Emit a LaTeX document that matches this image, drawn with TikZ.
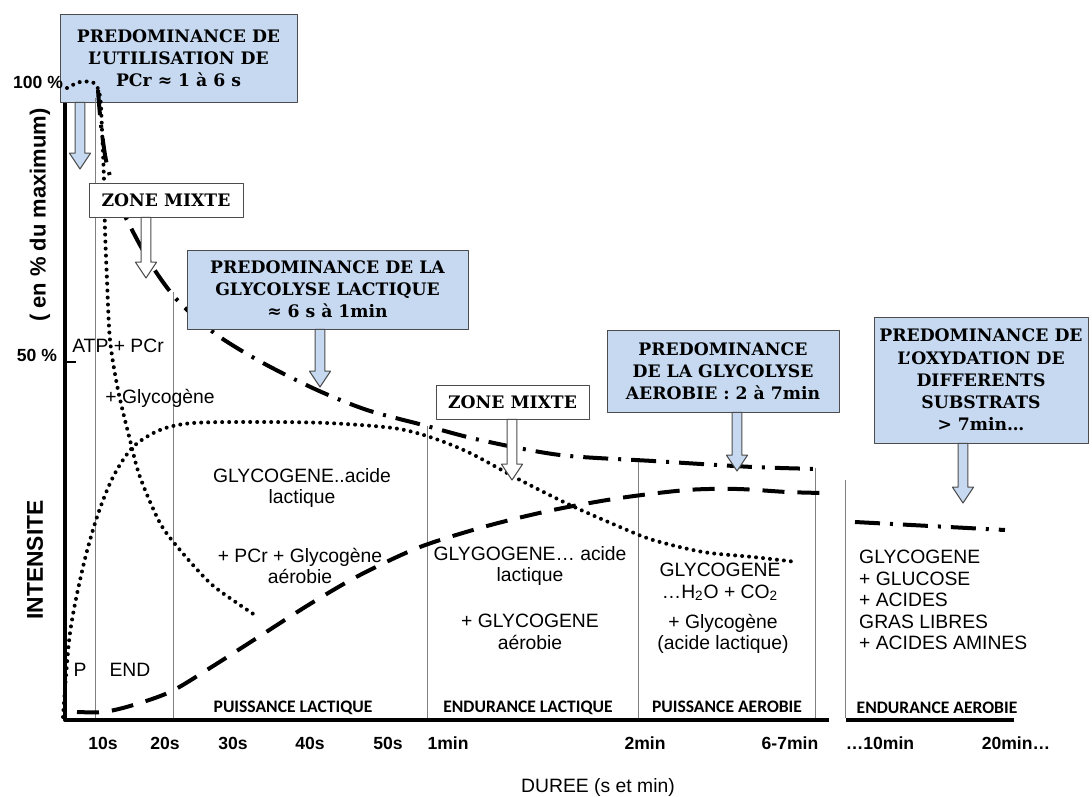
\documentclass[tikz,border=0pt]{standalone}
\usepackage{fontspec}
\setmainfont{Liberation Sans}
\newfontfamily\serifbox{DejaVu Serif}
\newfontfamily\etroite{Carlito}
\usetikzlibrary{calc}
\definecolor{bleuclair}{RGB}{198,217,241}

\begin{document}
\begin{tikzpicture}[x=0.02cm, y=-0.02cm, line join=round,
	boite/.style={draw=gray!60!black, fill=bleuclair, align=center, inner sep=1pt,
		font=\serifbox\bfseries\fontsize{9.8}{12.6}\selectfont},
	zone/.style={boite, fill=white},
	fleche/.style={draw=gray!60!black, line width=0.6pt},
	pointille/.style={line width=0.08cm, line cap=round, dash pattern=on 0pt off 0.14cm},
	tirets/.style={line width=0.08cm, dash pattern=on 0.44cm off 0.26cm},
	mixte/.style={line width=0.08cm, dash pattern=on 0.5cm off 0.2cm on 0.06cm off 0.2cm},
	grille/.style={gray, line width=0.4pt},
	texte/.style={align=center, font=\fontsize{11}{12.3}\selectfont},
	zonetxt/.style={font=\etroite\bfseries\fontsize{10}{11}\selectfont},
	temps/.style={font=\bfseries\fontsize{10}{12}\selectfont}]
	\useasboundingbox (0,0) rectangle (1092,797);
	% Pointes des grosses fleches
	\path
	(80,169) coordinate (t1)
	(146,278) coordinate (t2)
	(320,387) coordinate (t3)
	(512,480) coordinate (t4)
	(737,471) coordinate (t5)
	(963,503) coordinate (t6);
	% Cadre PCr (sous les courbes)
	\node[boite, minimum width=4.74cm, minimum height=1.76cm] (b1) at (178.5,58)
		{PREDOMINANCE DE\\L’UTILISATION DE\\PCr ≈ 1 à 6 s};
	% Lignes verticales
	\foreach \x/\y in {95/98, 173/292, 427/426, 638/461, 815/468, 845/480}
	\draw[grille] (\x,\y) -- (\x,718);
	% Axes
	\draw[line width=0.08cm] (65,103) -- (65,720) -- (829,720);
	\draw[line width=0.08cm] (846,720) -- (1014,720);
	\draw[line width=0.6pt] (65,362) -- (76,362);
	% Courbes
	\draw[mixte] plot[smooth] coordinates {(98,90) (101,125) (107,165) (120,205) (140,245)
		(158,275) (180,303) (217,335) (263,363) (317,390) (367,410) (423,425) (480,440)
		(560,455) (653,461) (753,467) (820,469)};
	\draw[mixte] (855,522) -- (1005,530);
	\draw[pointille] plot[smooth] coordinates {(67,88) (80,82) (94,83) (100,96) (102,130)
		(104,180) (105,230) (107,280) (110,340) (118,390) (130,440) (140,477) (160,523)
		(180,550) (210,583) (237,603) (258,617)};
	\draw[pointille] plot[smooth] coordinates {(63,717) (70,633) (83,567) (97,517) (113,477)
		(133,447) (160,430) (193,423) (260,422) (327,423) (393,428) (430,437) (470,453)
		(520,480) (570,505) (620,527) (653,540) (703,552) (753,557) (797,562)};
	\draw[tirets] plot[smooth] coordinates {(77,712) (103,712) (130,706) (170,692) (210,668)
		(260,636) (310,604) (360,575) (420,547) (487,526) (553,510) (620,498)
		(687,490) (737,489) (787,492) (823,493)};
	% Autres cadres
	\node[zone, minimum width=3.08cm, minimum height=0.68cm] (zm1) at (166,200) {ZONE MIXTE};
	\node[boite, minimum width=5.62cm, minimum height=1.58cm] (b2) at (327.5,289.5)
		{PREDOMINANCE DE LA\\GLYCOLYSE LACTIQUE\\≈ 6 s à 1min};
	\node[zone, minimum width=3.06cm, minimum height=0.68cm] (zm2) at (512.5,402) {ZONE MIXTE};
	\node[boite, minimum width=4.64cm, minimum height=1.64cm] (b3) at (723,371)
		{PREDOMINANCE\\DE LA GLYCOLYSE\\AEROBIE : 2 à 7min};
	\node[boite, minimum width=4.28cm, minimum height=2.52cm] (b4) at (981,380)
		{PREDOMINANCE DE\\L’OXYDATION DE\\DIFFERENTS\\SUBSTRATS\\> 7min…};
	% Grosses fleches
	\foreach \b/\t/\c in {b1/t1/bleuclair, zm1/t2/white, b2/t3/bleuclair,
		zm2/t4/white, b3/t5/bleuclair, b4/t6/bleuclair}
	\draw[fleche, fill=\c] let \p1=(\b.south -| \t), \p2=(\t) in
		(\x1-2.8pt,\y1) -- (\x1+2.8pt,\y1) -- (\x1+2.8pt,\y2+9pt) -- (\x1+6pt,\y2+9pt)
		-- (\x2,\y2) -- (\x1-6pt,\y2+9pt) -- (\x1-2.8pt,\y2+9pt) -- cycle;
	% Textes dans le graphique
	\node[texte] (atp) at (118,346) {ATP + PCr};
	\node[texte] (glyc) at (160,398) {+ Glycogène};
	\node[texte] (gl1) at (302,488) {GLYCOGENE..acide\\lactique};
	\node[texte] (gl2) at (300,566) {+ PCr + Glycogène\\aérobie};
	\node[texte] (gl3) at (530,566) {GLYGOGENE… acide\\lactique};
	\node[texte] (gl4) at (530,632) {+ GLYCOGENE\\aérobie};
	\node[texte] (gl5) at (720,582) {GLYCOGENE\\…H\textsubscript{2}O + CO\textsubscript{2}};
	\node[texte] (gl6) at (723,634) {+ Glycogène\\(acide lactique)};
	\node[texte, align=left, anchor=west] (gl7) at (853,600)
		{GLYCOGENE\\+ GLUCOSE\\+ ACIDES\\GRAS LIBRES\\+ ACIDES AMINES};
	\node[texte] (p) at (80,670) {P};
	\node[texte] (end) at (130,670) {END};
	% Zones
	\node[zonetxt] (z1) at (293,708) {PUISSANCE LACTIQUE};
	\node[zonetxt] (z2) at (528,708) {ENDURANCE LACTIQUE};
	\node[zonetxt] (z3) at (727,707) {PUISSANCE AEROBIE};
	\node[zonetxt] (z4) at (937,708) {ENDURANCE AEROBIE};
	% Axe des temps
	\foreach \x/\t [count=\i] in {103/10s, 165/20s, 233/30s, 310/40s, 388/50s, 448/1min,
		645/2min, 790/6-7min, 880/…10min, 1016/20min…}
	\node[temps] (x\i) at (\x,743) {\t};
	\node[font=\fontsize{11}{13}\selectfont] (duree) at (598,787) {DUREE (s et min)};
	% Axe des intensites
	\node[temps] (c100) at (38,82) {100 \%};
	\node[temps] (c50) at (37,355) {50 \%};
	\node[rotate=90, font=\bfseries\fontsize{12.5}{14}\selectfont] (pct) at (40,215) {( en \% du maximum)};
	\node[rotate=90, font=\bfseries\fontsize{13}{15}\selectfont] (int) at (35,560) {INTENSITE};
\end{tikzpicture}
\end{document}
